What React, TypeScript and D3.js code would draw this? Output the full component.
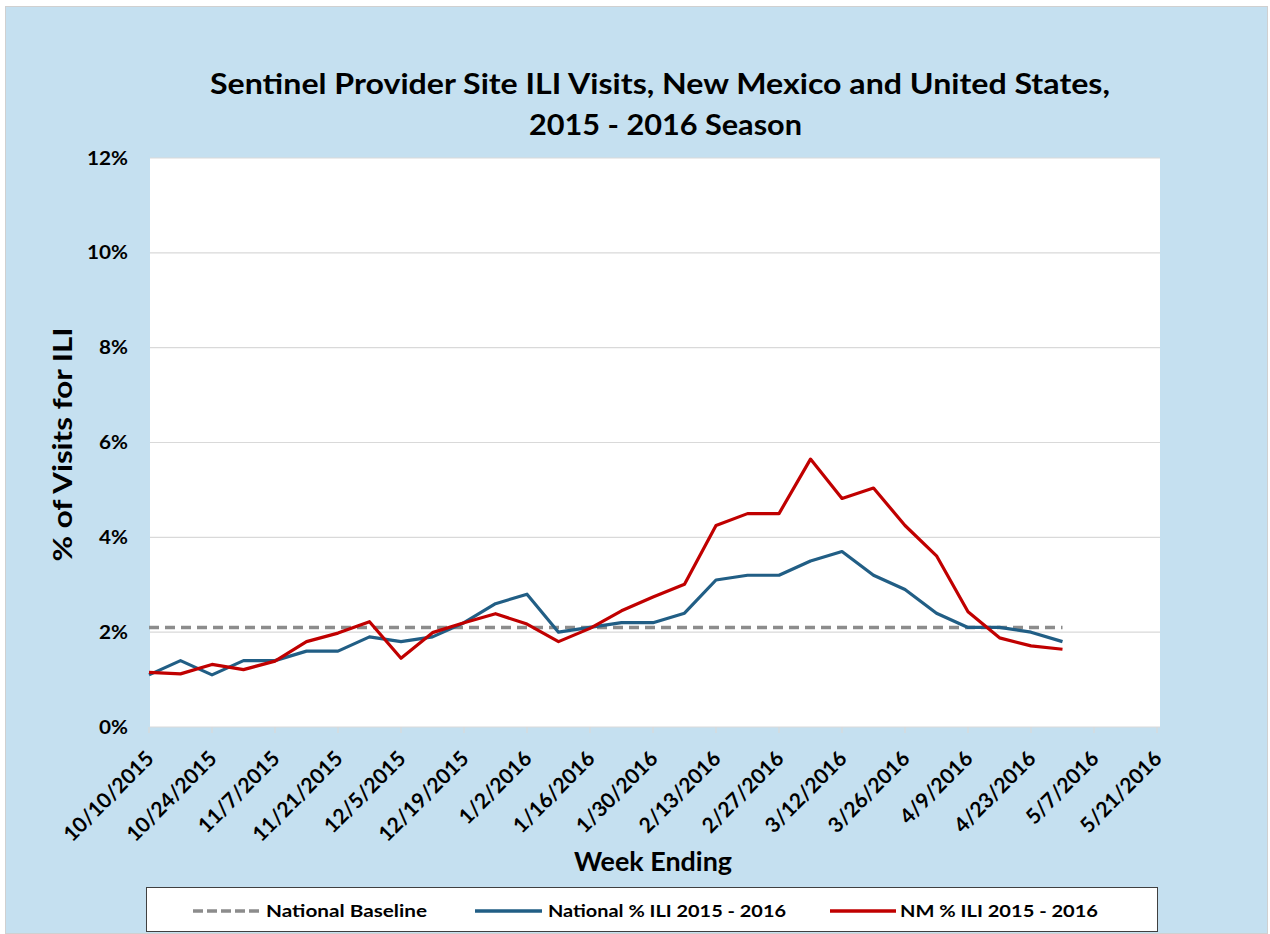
import * as d3 from "d3";

const startWeek = new Date(2015, 9, 10);
const endWeek = new Date(2016, 4, 21);

const tickLabels = [
  "10/10/2015", "10/24/2015", "11/7/2015", "11/21/2015", "12/5/2015", "12/19/2015",
  "1/2/2016", "1/16/2016", "1/30/2016", "2/13/2016", "2/27/2016", "3/12/2016",
  "3/26/2016", "4/9/2016", "4/23/2016", "5/7/2016", "5/21/2016",
];

// weekly % ILI, 10/10/2015 .. 4/30/2016
const nationalIli = [
  1.1, 1.4, 1.1, 1.4, 1.4, 1.6, 1.6, 1.9, 1.8, 1.9, 2.2, 2.6, 2.8, 2.0, 2.1,
  2.2, 2.2, 2.4, 3.1, 3.2, 3.2, 3.5, 3.7, 3.2, 2.9, 2.4, 2.1, 2.1, 2.0, 1.8,
];
const nmIli = [
  1.15, 1.12, 1.32, 1.21, 1.39, 1.8, 1.98, 2.22, 1.45, 1.99, 2.2, 2.39, 2.17, 1.8, 2.08,
  2.45, 2.74, 3.01, 4.25, 4.5, 4.5, 5.65, 4.82, 5.04, 4.25, 3.61, 2.43, 1.88, 1.71, 1.64,
];
const nationalBaseline = nationalIli.map(() => 2.1);

const yTicks = [0, 2, 4, 6, 8, 10, 12];

const W = 1270;
const H = 934;
const plot = { left: 150, right: 1158, top: 158, bottom: 727 };
const FONT = "Lato, 'Open Sans', sans-serif";

const weekDate = (i: number) => d3.timeDay.offset(startWeek, 7 * i);

export default function App() {
  const x = d3.scaleTime().domain([startWeek, endWeek]).range([plot.left - 1, plot.right - 1]);
  const y = d3.scaleLinear().domain([0, 12]).range([plot.bottom, plot.top]);

  const line = d3
    .line<number>()
    .x((_, i) => x(weekDate(i)))
    .y((d) => y(d));

  const tickDates = tickLabels.map((_, i) => weekDate(i * 2));

  return (
    <svg
      width={W}
      height={H}
      style={{ position: "absolute", left: 0, top: 0, display: "block" }}
      fontFamily={FONT}
    >
      <rect x={0} y={0} width={W} height={H} fill="#ffffff" />
      <rect x={5.5} y={6.5} width={1262} height={927} fill="#c5e0f0" stroke="#d0d0d0" />

      {/* title */}
      <text x={210} y={94} fontSize={28} fontWeight={700} fill="#000" textLength={900} lengthAdjust="spacingAndGlyphs">
        Sentinel Provider Site ILI Visits, New Mexico and United States,
      </text>
      <text x={529} y={135} fontSize={28} fontWeight={700} fill="#000" textLength={273} lengthAdjust="spacingAndGlyphs">
        2015 - 2016 Season
      </text>

      {/* plot area */}
      <rect
        x={plot.left}
        y={plot.top}
        width={plot.right + 2 - plot.left}
        height={plot.bottom - plot.top}
        fill="#ffffff"
      />
      {yTicks.map((t) => (
        <line
          key={t}
          x1={plot.left}
          x2={plot.right + 2}
          y1={y(t)}
          y2={y(t)}
          stroke="#d9d9d9"
          strokeWidth={1.2}
        />
      ))}
      {tickDates.map((d, i) => (
        <line
          key={i}
          x1={x(d)}
          x2={x(d)}
          y1={plot.bottom}
          y2={plot.bottom + 6}
          stroke="#d9d9d9"
          strokeWidth={1.2}
        />
      ))}

      {/* y tick labels */}
      {yTicks.map((t) => (
        <g key={t} transform={`translate(128,${y(t) + 6.5}) scale(1.15,1)`}>
          <text textAnchor="end" fontSize={18} fontWeight={700} fill="#000">
            {t}%
          </text>
        </g>
      ))}
      <text
        transform={`translate(72,${(plot.top + plot.bottom) / 2 + 2}) rotate(-90)`}
        textAnchor="middle"
        fontSize={27}
        fontWeight={700}
        fill="#000"
        textLength={234}
        lengthAdjust="spacingAndGlyphs"
      >
        % of Visits for ILI
      </text>

      {/* x tick labels */}
      {tickDates.map((d, i) => (
        <text
          key={i}
          transform={`translate(${x(d) + 6},${plot.bottom + 33}) rotate(-45)`}
          textAnchor="end"
          fontSize={21}
          fontWeight={700}
          fill="#000"
        >
          {tickLabels[i]}
        </text>
      ))}
      <text x={574} y={871} fontSize={26} fontWeight={700} fill="#000" textLength={158} lengthAdjust="spacingAndGlyphs">
        Week Ending
      </text>

      {/* series */}
      <path
        d={line(nationalBaseline) ?? ""}
        fill="none"
        stroke="#8c8c8c"
        strokeWidth={3.5}
        strokeDasharray="10 6"
      />
      <path d={line(nationalIli) ?? ""} fill="none" stroke="#215e85" strokeWidth={3.2} strokeLinejoin="round" />
      <path d={line(nmIli) ?? ""} fill="none" stroke="#c00000" strokeWidth={3.2} strokeLinejoin="round" />

      {/* legend */}
      <rect x={146.5} y={887.5} width={1011} height={44} fill="#ffffff" stroke="#404040" strokeWidth={1} />
      <line x1={193} x2={262} y1={911} y2={911} stroke="#8c8c8c" strokeWidth={3.5} strokeDasharray="10 4" />
      <text x={266} y={917} fontSize={17} fontWeight={700} fill="#000" textLength={161} lengthAdjust="spacingAndGlyphs">
        National Baseline
      </text>
      <line x1={475} x2={542} y1={911} y2={911} stroke="#215e85" strokeWidth={3.5} />
      <text x={548} y={917} fontSize={17} fontWeight={700} fill="#000" textLength={238} lengthAdjust="spacingAndGlyphs">
        National % ILI 2015 - 2016
      </text>
      <line x1={830} x2={896} y1={911} y2={911} stroke="#c00000" strokeWidth={3.5} />
      <text x={900} y={917} fontSize={17} fontWeight={700} fill="#000" textLength={198} lengthAdjust="spacingAndGlyphs">
        NM % ILI 2015 - 2016
      </text>
    </svg>
  );
}
